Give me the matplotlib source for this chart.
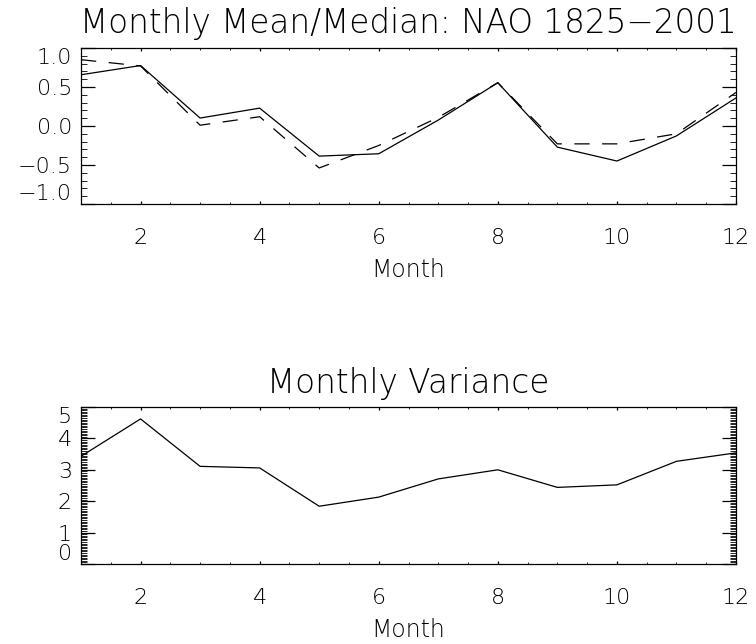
import numpy as np
import matplotlib
matplotlib.use("Agg")
import matplotlib.pyplot as plt
from matplotlib.ticker import MultipleLocator, FuncFormatter

# NAO index statistics by calendar month, 1825-2001
months = [1, 2, 3, 4, 5, 6, 7, 8, 9, 10, 11, 12]
nao_mean = [0.657, 0.775, 0.102, 0.229, -0.386, -0.356, 0.076, 0.555, -0.271, -0.449, -0.127, 0.360]
nao_median = [0.85, 0.77, 0.01, 0.119, -0.538, -0.25, 0.11, 0.555, -0.229, -0.229, -0.10, 0.43]
nao_variance = [3.43, 4.62, 3.11, 3.06, 1.84, 2.13, 2.71, 3.00, 2.44, 2.52, 3.27, 3.54]

top_title = "Monthly Mean/Median: NAO 1825\u22122001"
bottom_title = "Monthly Variance"
x_label = "Month"

plt.rcParams["font.family"] = ["DejaVu Sans", "Roboto"]
plt.rcParams["font.weight"] = 200
plt.rcParams["axes.titleweight"] = 200
plt.rcParams["axes.labelweight"] = 200
plt.rcParams["lines.scale_dashes"] = False
plt.rcParams["axes.unicode_minus"] = True

fig = plt.figure(figsize=(7.56, 6.44), dpi=100)
ax1 = fig.add_axes([81 / 756, 1 - 204 / 644, 655 / 756, 156 / 644])
ax2 = fig.add_axes([81 / 756, 1 - 564 / 644, 655 / 756, 157 / 644])

lw = 0.9
tick_fs = 16
title_fs = 23.5


def style_axes(ax, ylim, ymajor, yminor, yfmt):
    ax.set_xlim(1, 12)
    ax.set_ylim(*ylim)
    ax.xaxis.set_major_locator(MultipleLocator(2))
    ax.xaxis.set_minor_locator(MultipleLocator(0.5))
    ax.yaxis.set_major_locator(MultipleLocator(ymajor))
    ax.yaxis.set_minor_locator(MultipleLocator(yminor))
    ax.yaxis.set_major_formatter(FuncFormatter(lambda v, p: yfmt.format(v).replace("-", "\u2212")))
    for s in ax.spines.values():
        s.set_linewidth(lw)
    ax.tick_params(axis="both", which="both", direction="in", top=True, right=True,
                   colors="black", labelsize=tick_fs)
    ax.tick_params(axis="both", which="major", width=lw)
    ax.tick_params(axis="both", which="minor", width=0.6)
    ax.tick_params(axis="x", which="major", length=2.4, pad=17)
    ax.tick_params(axis="x", which="minor", length=1.3)
    ax.tick_params(axis="y", which="major", length=10, pad=6.5)
    ax.tick_params(axis="y", which="minor", length=4.3)
    ax.set_xlabel(x_label, fontsize=17)
    ax.xaxis.set_label_coords(0.5, -0.346)
    # keep the end labels inside the frame
    fig.canvas.draw()
    labels = ax.get_yticklabels()
    visible = [t for t, v in zip(labels, ax.get_yticks()) if ylim[0] - 1e-9 <= v <= ylim[1] + 1e-9]
    if visible:
        visible[0].set_va("bottom")
        visible[-1].set_va("top")


ax1.plot(months, nao_mean, color="black", lw=lw)
ax1.plot(months, nao_median, color="black", lw=lw, dashes=(11, 9))
style_axes(ax1, (-1.0, 1.0), 0.5, 0.1, "{:.1f}")
ax1.set_title(top_title, fontsize=title_fs, pad=10.5)

ax2.plot(months, nao_variance, color="black", lw=lw)
style_axes(ax2, (0, 5), 1, 0.05, "{:.0f}")
ax2.set_title(bottom_title, fontsize=title_fs, pad=10)

fig.savefig("out.png", dpi=100)
